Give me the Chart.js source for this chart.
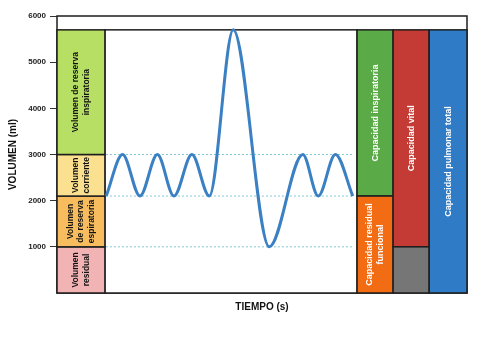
<!DOCTYPE html>
<html>
<head>
<meta charset="utf-8">
<script src="https://cdn.jsdelivr.net/npm/chart.js@4.4.1/dist/chart.umd.min.js"></script>
<style>
  body { margin: 0; background: #fff; }
  #wrap { width: 481px; height: 341px; }
</style>
</head>
<body>
<div id="wrap"><canvas id="chart"></canvas></div>
<script>
// spirogram trace, time in arbitrary units (plot spans 0..100)
const timeS = [0.5, 7, 13.9, 20.8, 27.4, 34.5, 41.4, 50.9, 65.2, 78.5, 84.6, 91.4, 98.3];
const volumeMl = [2100, 3000, 2100, 3000, 2100, 3000, 2100, 5700, 1000, 3000, 2100, 3000, 2100];
const yTicks = [1000, 2000, 3000, 4000, 5000, 6000];
const refLevels = [3000, 2100, 1000];

// volumes (left column), bottom to top
const volNames = [['Volumen', 'residual'], ['Volumen', 'de reserva', 'espiratoria'], ['Volumen', 'corriente'], ['Volumen de reserva', 'inspiratoria']];
const volBounds = [0, 1000, 2100, 3000, 5700];

// capacities (right columns)
const capNames = [['Capacidad inspiratoria'], ['Capacidad residual', 'funcional'], ['Capacidad vital'], [], ['Capacidad pulmonar total']];
const capFrom = [2100, 0, 1000, 0, 0];
const capTo = [5700, 2100, 5700, 1000, 5700];

const FONT = '"Liberation Sans", Arial, sans-serif';

const boxLayout = {
  volCol: [-19, 0],
  plotCol: [0, 100],
  capCols: [[100, 114.3], [114.3, 128.6], [128.6, 143.6]],
  capColOf: [0, 0, 1, 1, 2],
  volColors: ['#f1b3b4', '#f6bc5e', '#fbe18f', '#b6df64'],
  capColors: ['#5aab47', '#f26c14', '#c33b34', '#767676', '#2f7bc5'],
};

const diagramBoxes = {
  id: 'diagramBoxes',
  beforeDatasetsDraw(chart) {
    const { ctx, scales: { x, y } } = chart;
    const L = boxLayout;
    ctx.save();
    ctx.lineWidth = 1.5;
    ctx.strokeStyle = '#1e1e1e';

    const rect = (x0, x1, v0, v1, fill) => {
      const px0 = x.getPixelForValue(x0), px1 = x.getPixelForValue(x1);
      const py0 = y.getPixelForValue(v0), py1 = y.getPixelForValue(v1);
      ctx.fillStyle = fill;
      ctx.fillRect(px0, py1, px1 - px0, py0 - py1);
      ctx.strokeRect(px0, py1, px1 - px0, py0 - py1);
      return { cx: (px0 + px1) / 2, cy: (py0 + py1) / 2 };
    };

    const label = (lines, c, color, size) => {
      ctx.save();
      ctx.translate(c.cx, c.cy);
      ctx.rotate(-Math.PI / 2);
      ctx.fillStyle = color;
      ctx.font = `bold ${size}px ${FONT}`;
      ctx.textAlign = 'center';
      ctx.textBaseline = 'middle';
      const lh = size * 1.25;
      lines.forEach((t, i) => ctx.fillText(t, 0, (i - (lines.length - 1) / 2) * lh));
      ctx.restore();
    };

    // outer frame + top strip
    rect(L.volCol[0], L.capCols[2][1], 0, 6000, '#ffffff');
    rect(L.plotCol[0], L.plotCol[1], 0, volBounds[4], '#ffffff');

    volNames.forEach((lines, i) => {
      const c = rect(L.volCol[0], L.volCol[1], volBounds[i], volBounds[i + 1], L.volColors[i]);
      label(lines, c, '#111', 8.5);
    });

    capNames.forEach((lines, i) => {
      const col = L.capCols[L.capColOf[i]];
      const c = rect(col[0], col[1], capFrom[i], capTo[i], L.capColors[i]);
      label(lines, c, '#ffffff', 9);
    });

    ctx.restore();
  }
};

const datasets = [{
  data: timeS.map((t, i) => ({ x: t, y: volumeMl[i] })),
  borderColor: '#3a80c3',
  borderWidth: 3,
  pointRadius: 0,
  cubicInterpolationMode: 'monotone',
  fill: false
}];
refLevels.forEach(v => {
  datasets.push({
    data: [{ x: timeS[0] - 0.1, y: v }, { x: timeS[timeS.length - 1], y: v }],
    borderColor: '#82c7d3',
    borderWidth: 1,
    borderDash: [2, 2],
    pointRadius: 0,
    tension: 0
  });
});

new Chart(document.getElementById('chart'), {
  type: 'line',
  data: { datasets },
  plugins: [diagramBoxes],
  options: {
    responsive: true,
    maintainAspectRatio: false,
    animation: false,
    devicePixelRatio: 1,
    layout: { padding: { left: 3, right: 14, top: 16, bottom: 0 } },
    plugins: { legend: { display: false }, tooltip: { enabled: false } },
    scales: {
      x: {
        type: 'linear',
        min: -19,
        max: 143.6,
        ticks: { display: false },
        grid: { display: false },
        border: { display: false },
        title: {
          display: true,
          text: 'TIEMPO (s)',
          color: '#111',
          font: { family: FONT, size: 10, weight: 'bold' },
          padding: { top: 0, bottom: 28 }
        },
        afterFit(scale) { scale.height = 48; }
      },
      y: {
        min: 0,
        max: 6000,
        afterBuildTicks(scale) { scale.ticks = yTicks.map(v => ({ value: v })); },
        ticks: {
          padding: 4,
          color: '#222',
          font: { family: FONT, size: 8, weight: 'bold' },
          callback: v => String(v)
        },
        grid: { drawOnChartArea: false, drawTicks: true, tickLength: 7, color: '#333' },
        border: { display: false },
        title: {
          display: true,
          text: 'VOLUMEN (ml)',
          color: '#111',
          font: { family: FONT, size: 10, weight: 'bold' },
          padding: { top: 4, bottom: 0 }
        },
        afterFit(scale) { scale.width = 54; }
      }
    }
  }
});
</script>
</body>
</html>
